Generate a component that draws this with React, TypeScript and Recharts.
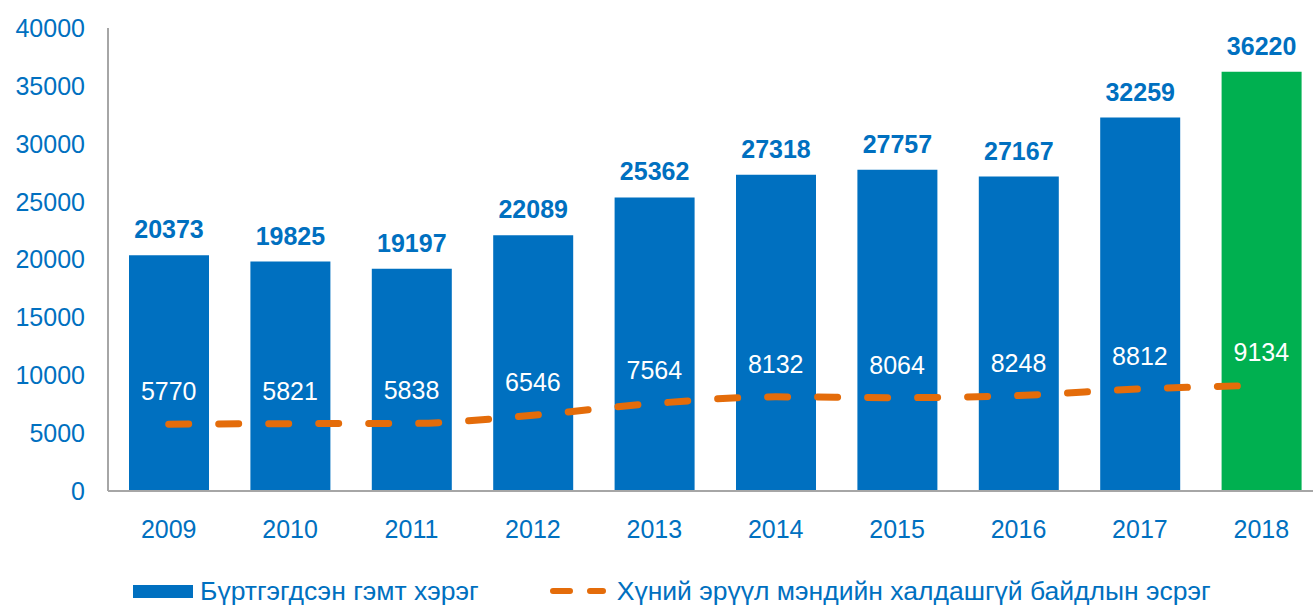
import React from 'react';
import { ComposedChart, Bar, Line, XAxis, YAxis, Cell, LabelList } from 'recharts';

const years = ['2009', '2010', '2011', '2012', '2013', '2014', '2015', '2016', '2017', '2018'];
const crimes = [20373, 19825, 19197, 22089, 25362, 27318, 27757, 27167, 32259, 36220];
const healthCrimes = [5770, 5821, 5838, 6546, 7564, 8132, 8064, 8248, 8812, 9134];
const yTicks = [0, 5000, 10000, 15000, 20000, 25000, 30000, 35000, 40000];

const barName = 'Бүртгэгдсэн гэмт хэрэг';
const lineName = 'Хүний эрүүл мэндийн халдашгүй байдлын эсрэг';

const BLUE = '#0070C0';
const GREEN = '#00B050';
const ORANGE = '#E46C0A';
const FONT = '"Liberation Sans", Arial, sans-serif';

const data = years.map((year, i) => ({
  year,
  crimes: crimes[i],
  health: healthCrimes[i]
}));

const App: React.FC = () => {
  return (
    <div style={{ position: 'absolute', left: 0, top: 0, width: 1313, height: 605, overflow: 'hidden', fontFamily: FONT }}>
      <ComposedChart
        width={1322}
        height={605}
        data={data}
        margin={{ top: 28, right: 0, bottom: 74, left: 0 }}
      >
        <XAxis
          dataKey="year"
          height={40}
          tickLine={false}
          tickSize={0}
          tickMargin={29}
          axisLine={{ stroke: '#A6A6A6', strokeWidth: 2 }}
          tick={{ fill: BLUE, fontSize: 25, fontFamily: FONT }}
        />
        <YAxis
          width={108}
          domain={[0, 40000]}
          ticks={yTicks}
          interval={0}
          tickLine={false}
          tickSize={0}
          tickMargin={23}
          axisLine={{ stroke: '#A6A6A6', strokeWidth: 2 }}
          tick={{ fill: BLUE, fontSize: 25, fontFamily: FONT }}
        />
        <Bar dataKey="crimes" barSize={80} isAnimationActive={false}>
          {data.map((d, i) => (
            <Cell key={d.year} fill={i === data.length - 1 ? GREEN : BLUE} />
          ))}
          <LabelList
            dataKey="crimes"
            position="top"
            offset={17}
            fill={BLUE}
            fontSize={25}
            fontWeight="bold"
            fontFamily={FONT}
          />
        </Bar>
        <Line
          dataKey="health"
          type="monotone"
          stroke={ORANGE}
          strokeWidth={7}
          strokeLinecap="round"
          strokeDasharray="20 30"
          dot={false}
          activeDot={false}
          isAnimationActive={false}
        >
          <LabelList
            dataKey="health"
            position="top"
            offset={24}
            fill="#FFFFFF"
            fontSize={25}
            fontFamily={FONT}
          />
        </Line>
      </ComposedChart>
      <div style={{ position: 'absolute', left: 133, top: 576, display: 'flex', alignItems: 'center', color: BLUE, fontSize: 26.5, lineHeight: '30px', whiteSpace: 'nowrap' }}>
        <span style={{ display: 'inline-block', width: 60, height: 13, background: BLUE, marginRight: 7 }} />
        <span>{barName}</span>
        <svg width={60} height={10} style={{ marginLeft: 68, marginRight: 10 }}>
          <line x1={6} y1={5} x2={56} y2={5} stroke={ORANGE} strokeWidth={6} strokeLinecap="round" strokeDasharray="17 20" />
        </svg>
        <span>{lineName}</span>
      </div>
    </div>
  );
};

export default App;
